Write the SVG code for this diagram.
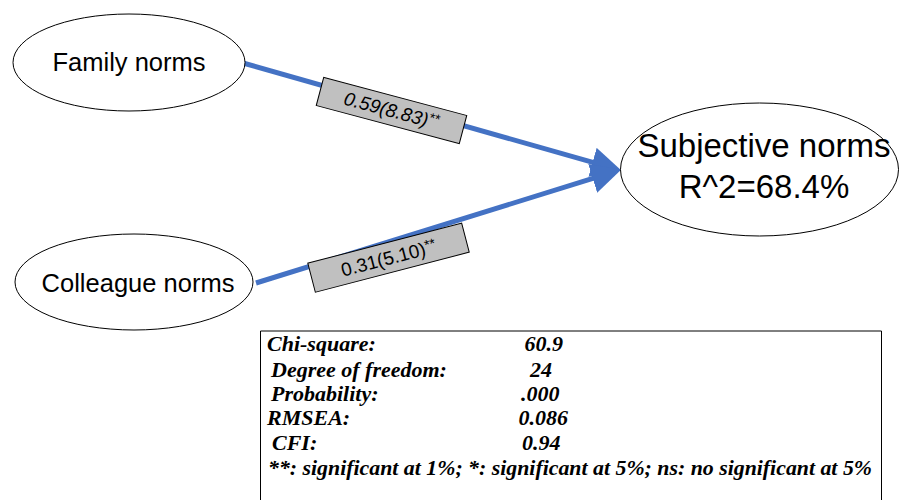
<svg xmlns="http://www.w3.org/2000/svg" width="899" height="500" viewBox="0 0 899 500">
  <style>
    .node { fill: #ffffff; stroke: #000000; stroke-width: 1; }
    .node-label { font-family: "Liberation Sans", Arial, sans-serif; fill: #000000; text-anchor: middle; }
    .path { fill: none; stroke: #4472C4; stroke-width: 5; }
    .coef-box { fill: #C0C0C0; stroke: #000000; stroke-width: 1; }
    .coef { font-family: "Liberation Sans", Arial, sans-serif; font-size: 19px; fill: #000000; text-anchor: middle; }
    .sig { font-size: 14px; }
    .stats { font-family: "Liberation Serif", "Times New Roman", serif; font-size: 22px; font-weight: bold; font-style: italic; fill: #000000; }
  </style>
  <defs>
    <marker id="arrow" markerUnits="userSpaceOnUse" markerWidth="30" markerHeight="30" viewBox="0 0 28 28" refX="8" refY="14" orient="auto">
      <path d="M0,0 L28,14 L0,28 z" fill="#4472C4"/>
    </marker>
  </defs>

  <rect width="899" height="500" fill="#ffffff"/>

  <!-- structural paths with their estimates -->
  <g id="connectors">
    <line class="path" x1="243" y1="63" x2="600.8" y2="164.6" marker-end="url(#arrow)"/>
    <line class="path" x1="256" y1="283" x2="600.9" y2="175.9" marker-end="url(#arrow)"/>
    <g transform="translate(391.5,110.5) rotate(14.9)">
      <rect class="coef-box" x="-74" y="-14.5" width="148" height="29"/>
      <text class="coef" y="6.5" font-style="italic">0.59(8.83)<tspan class="sig" dy="-5">**</tspan></text>
    </g>
    <g transform="translate(388.5,257.7) rotate(-14.6)">
      <rect class="coef-box" x="-79.5" y="-15" width="159" height="30"/>
      <text class="coef" y="7">0.31(5.10)<tspan class="sig" dy="-5">**</tspan></text>
    </g>
  </g>

  <g id="family-norms">
    <ellipse class="node" cx="129" cy="62.5" rx="116" ry="48.5"/>
    <text class="node-label" x="129" y="71" font-size="25.5">Family norms</text>
  </g>

  <g id="colleague-norms">
    <ellipse class="node" cx="134" cy="282" rx="119" ry="48"/>
    <text class="node-label" x="138" y="291.5" font-size="25.5">Colleague norms</text>
  </g>

  <g id="subjective-norms">
    <ellipse class="node" cx="759.5" cy="169.5" rx="139" ry="66.5"/>
    <text class="node-label" x="764" y="157" font-size="33">Subjective norms</text>
    <text class="node-label" x="764" y="198" font-size="33">R^2=68.4%</text>
  </g>

  <!-- model fit summary -->
  <g id="fit-statistics">
    <polyline points="260.5,500 260.5,331 881.5,331 881.5,500" fill="none" stroke="#000000" stroke-width="1"/>
    <text class="stats" x="267" y="350.5">Chi-square:</text>
    <text class="stats" x="524.5" y="350.5">60.9</text>
    <text class="stats" x="271" y="376.5">Degree of freedom:</text>
    <text class="stats" x="530" y="376.5">24</text>
    <text class="stats" x="271" y="401">Probability:</text>
    <text class="stats" x="521" y="401">.000</text>
    <text class="stats" x="267" y="425">RMSEA:</text>
    <text class="stats" x="518.5" y="425">0.086</text>
    <text class="stats" x="272" y="450">CFI:</text>
    <text class="stats" x="522" y="450">0.94</text>
    <text class="stats" x="268" y="474.5" textLength="604" lengthAdjust="spacingAndGlyphs">**: significant at 1%; *: significant at 5%; ns: no significant at 5%</text>
  </g>
</svg>
